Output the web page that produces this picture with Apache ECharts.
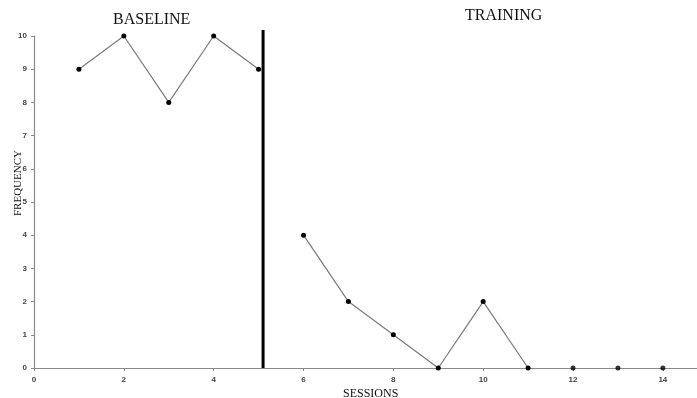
<!DOCTYPE html>
<html><head><meta charset="utf-8">
<script src="https://cdn.jsdelivr.net/npm/echarts@6/dist/echarts.min.js"></script>
<style>html,body{margin:0;padding:0;background:#fff}#c{width:697px;height:398px}</style>
</head><body><div id="c"></div>
<script>
const baselineSessions = [1, 2, 3, 4, 5];
const baselineValues = [9, 10, 8, 10, 9];
const trainingSessions = [6, 7, 8, 9, 10, 11];
const trainingValues = [4, 2, 1, 0, 2, 0];
const extraSessions = [12, 13, 14];
const extraValues = [0, 0, 0];
const phaseChangeAt = 5.1;
const phaseLineBottom = 0;
const phaseLineTop = 10.18;
const xTicks = [0, 2, 4, 6, 8, 10, 12, 14];
const yTicks = [0, 1, 2, 3, 4, 5, 6, 7, 8, 9, 10];

const chart = echarts.init(document.getElementById('c'));
const pair = (xs, ys) => xs.map((x, i) => [x, ys[i]]);
const lineStyle = { color: '#7a7a7a', width: 1.2 };
const itemStyle = { color: '#000' };
chart.setOption({
  animation: false,
  grid: { left: 34, right: 0, top: 36, bottom: 30 },
  graphic: [
    { type: 'text', left: 113, top: 12, style: { text: 'BASELINE', font: '16px "Liberation Serif", serif', fill: '#111' } },
    { type: 'text', left: 465, top: 8, style: { text: 'TRAINING', font: '16px "Liberation Serif", serif', fill: '#111' } },
    { type: 'text', x: 13, y: 216, rotation: Math.PI / 2, style: { text: 'FREQUENCY', font: '11px "Liberation Serif", serif', fill: '#111' } },
    { type: 'text', left: 343, top: 388, style: { text: 'SESSIONS', font: '12px "Liberation Serif", serif', fill: '#111' } }
  ],
  xAxis: {
    type: 'value', min: 0, max: 14.76, interval: 2,
    axisLine: { lineStyle: { color: '#8a8a8a', width: 1.2 } },
    axisTick: { show: true, length: 3, lineStyle: { color: '#8a8a8a' } },
    axisLabel: { color: '#444', fontSize: 8, fontWeight: 'bold', fontFamily: 'Liberation Sans', margin: 8,
      formatter: v => xTicks.includes(v) ? String(v) : '', showMaxLabel: false },
    splitLine: { show: false }
  },
  yAxis: {
    type: 'value', min: 0, max: 10, interval: 1,
    axisLine: { show: true, lineStyle: { color: '#8a8a8a', width: 1.2 } },
    axisTick: { show: true, length: 3, lineStyle: { color: '#8a8a8a' } },
    axisLabel: { color: '#444', fontSize: 8, fontWeight: 'bold', fontFamily: 'Liberation Sans', margin: 7,
      formatter: v => yTicks.includes(v) ? String(v) : '' },
    splitLine: { show: false }
  },
  series: [
    { type: 'custom', clip: false, silent: true, z: 2,
      data: [[phaseChangeAt, phaseLineBottom, phaseLineTop]],
      renderItem: (params, api) => {
        const p0 = api.coord([api.value(0), api.value(1)]);
        const p1 = api.coord([api.value(0), api.value(2)]);
        return { type: 'line', shape: { x1: p0[0], y1: p0[1], x2: p1[0], y2: p1[1] },
          style: { stroke: '#000', lineWidth: 3 } };
      } },
    { type: 'line', data: pair(baselineSessions, baselineValues), symbol: 'circle', symbolSize: 5,
      lineStyle, itemStyle, z: 3 },
    { type: 'line', data: pair(trainingSessions, trainingValues), symbol: 'circle', symbolSize: 5,
      lineStyle, itemStyle, z: 3 },
    { type: 'scatter', data: pair(extraSessions, extraValues), symbol: 'circle', symbolSize: 5, itemStyle, z: 3 }
  ]
});
</script></body></html>
